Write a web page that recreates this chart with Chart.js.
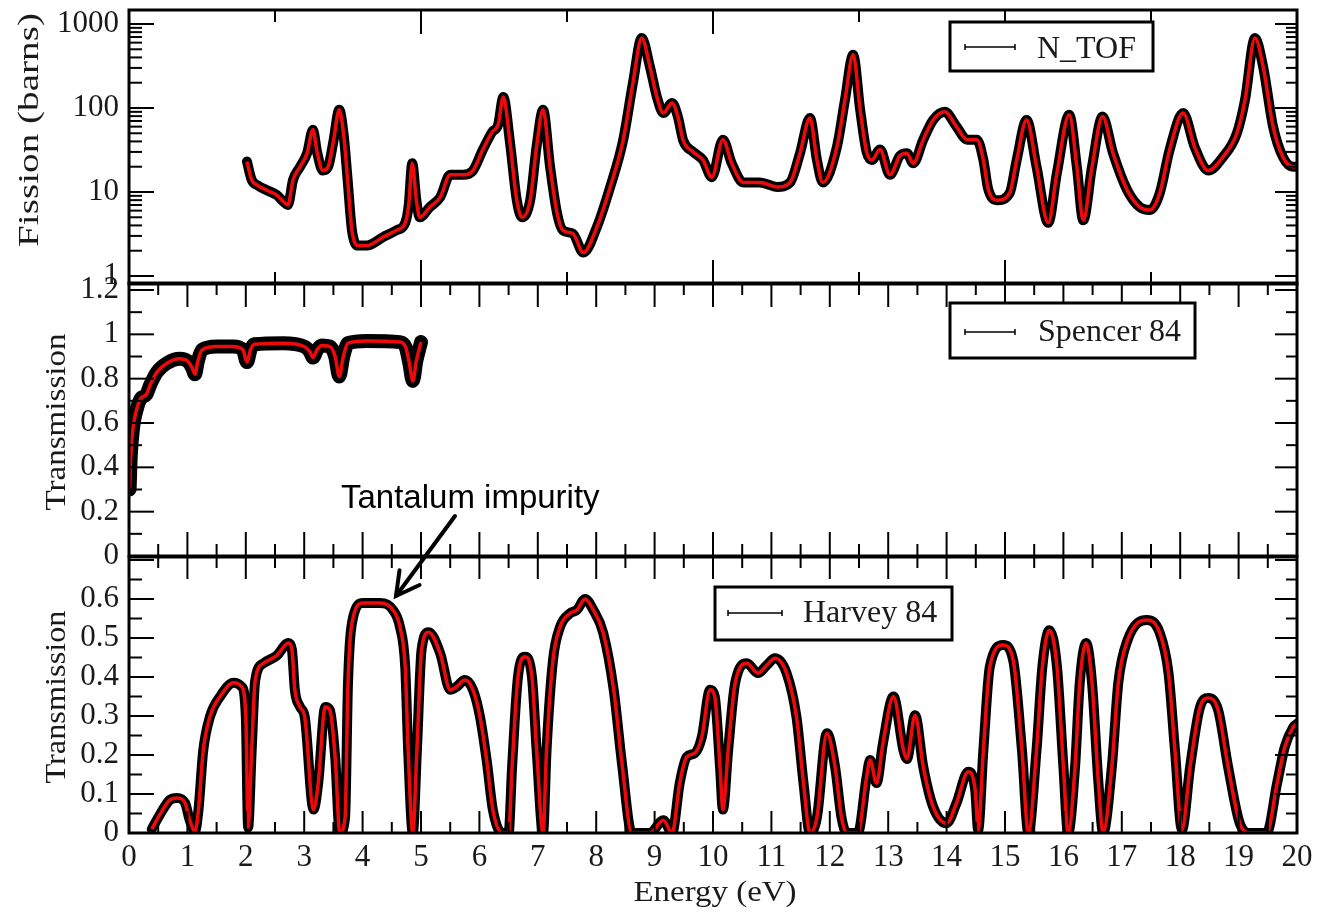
<!DOCTYPE html>
<html><head><meta charset="utf-8">
<script src="https://cdn.jsdelivr.net/npm/chart.js@4/dist/chart.umd.min.js"></script>
<style>
html,body{margin:0;padding:0;background:#fff;}
#wrap{position:relative;width:1320px;height:914px;overflow:hidden;background:#fff;}
canvas{position:absolute;left:0;}
</style></head><body>
<div id="wrap">
<canvas id="c1" width="1320" height="300" style="top:0px"></canvas>
<canvas id="c2" width="1320" height="300" style="top:270px"></canvas>
<canvas id="c3" width="1320" height="444" style="top:470px"></canvas>
</div>
<script>
// ---------- DATA ----------
const energyFission = [2.02,2.1,2.2,2.36,2.53,2.65,2.72,2.81,2.93,3.05,3.15,3.22,3.32,3.41,3.5,3.6,3.68,3.74,3.82,3.93,4.07,4.35,4.58,4.73,4.79,4.85,4.92,4.98,5.15,5.33,5.5,5.72,5.89,6.06,6.22,6.32,6.41,6.52,6.64,6.73,6.87,6.98,7.09,7.21,7.33,7.43,7.6,7.78,8.01,8.24,8.46,8.63,8.78,8.92,9.04,9.15,9.3,9.4,9.49,9.66,9.83,9.98,10.17,10.32,10.52,10.8,11.1,11.32,11.49,11.66,11.78,11.88,12.12,12.26,12.4,12.52,12.63,12.72,12.86,13.03,13.2,13.32,13.43,13.6,13.77,13.97,14.17,14.35,14.52,14.63,14.71,14.86,15.08,15.2,15.37,15.54,15.74,15.89,16.1,16.23,16.34,16.49,16.67,16.85,17.09,17.31,17.48,17.65,17.82,18.05,18.25,18.48,18.73,18.97,19.11,19.28,19.42,19.59,19.76,19.93,20.0];
const fissionNTOF = [23,14,12,10.5,9.2,7.6,7.0,14,20,29,55,30,18,20,40,95,45,15,3.4,2.3,2.3,2.9,3.5,4.3,7,22,8,5.0,6.6,8.7,16,16,18,32,52,63,135,41,8,5.0,8,35,95,20,5.6,3.5,3.2,1.9,3.8,11.5,41,200,680,310,135,87,115,78,41,30,24,15,42,22,13,13,11.5,13,29,76,24,13,34,125,430,95,30,24,32,16,27,29,22,42,72,90,60,42,42,24,11,8,9.7,24,72,20,4.3,17,83,20,4.6,20,79,29,10.6,6.6,6.1,9.7,32,87,34,18,26,50,125,680,310,60,26,20,20];

const energySpencer = [0.01,0.03,0.07,0.13,0.2,0.3,0.36,0.48,0.65,0.87,1.0,1.08,1.13,1.18,1.25,1.5,1.78,1.95,2.02,2.08,2.15,2.64,3.0,3.1,3.15,3.22,3.3,3.44,3.53,3.6,3.67,3.75,4.07,4.64,4.74,4.8,4.86,4.92,5.0];
const transSpencer = [0.3,0.45,0.58,0.66,0.71,0.73,0.77,0.83,0.87,0.89,0.88,0.85,0.82,0.88,0.93,0.945,0.945,0.93,0.875,0.93,0.955,0.96,0.945,0.92,0.895,0.93,0.95,0.945,0.9,0.81,0.9,0.96,0.97,0.965,0.94,0.87,0.79,0.88,0.965];

const energyHarvey = [0.39,0.58,0.7,0.82,0.96,1.04,1.13,1.19,1.27,1.39,1.56,1.79,1.93,2.0,2.04,2.1,2.16,2.3,2.53,2.73,2.79,2.84,2.93,3.01,3.16,3.24,3.36,3.44,3.53,3.61,3.7,3.75,3.84,4.01,4.3,4.52,4.64,4.73,4.78,4.86,4.93,5.01,5.13,5.33,5.5,5.61,5.75,5.89,6.01,6.13,6.23,6.39,6.5,6.56,6.66,6.78,6.9,6.98,7.09,7.15,7.26,7.38,7.55,7.67,7.81,7.95,8.12,8.3,8.44,8.61,8.92,9.15,9.3,9.43,9.55,9.69,9.81,9.95,10.03,10.12,10.17,10.26,10.38,10.58,10.77,10.92,11.06,11.26,11.43,11.55,11.66,11.78,11.95,12.09,12.2,12.29,12.48,12.63,12.69,12.8,12.91,13.09,13.26,13.32,13.46,13.6,13.77,14.0,14.17,14.37,14.49,14.54,14.63,14.74,14.97,15.14,15.29,15.4,15.54,15.64,15.76,15.89,16.0,16.08,16.2,16.28,16.39,16.49,16.6,16.68,16.83,16.94,17.1,17.43,17.65,17.8,17.91,18.03,18.17,18.34,18.48,18.65,18.82,19.02,19.2,19.48,19.66,19.79,19.93,20.0];
const transHarvey = [0.01,0.06,0.085,0.09,0.077,0.033,0.005,0.06,0.21,0.30,0.35,0.385,0.375,0.30,0.015,0.21,0.39,0.435,0.455,0.487,0.47,0.367,0.323,0.297,0.06,0.128,0.323,0.315,0.195,0.0,0.04,0.385,0.555,0.59,0.59,0.572,0.528,0.425,0.213,0.0,0.213,0.47,0.515,0.46,0.367,0.375,0.392,0.367,0.298,0.18,0.06,0.0,0.0,0.17,0.40,0.452,0.40,0.213,0.0,0.213,0.443,0.528,0.563,0.572,0.6,0.572,0.513,0.367,0.18,0.0,0.0,0.033,0.0,0.128,0.195,0.205,0.247,0.367,0.35,0.17,0.06,0.213,0.385,0.435,0.41,0.43,0.448,0.41,0.297,0.128,0.0,0.04,0.256,0.17,0.04,0.0,0.0,0.143,0.187,0.128,0.23,0.35,0.213,0.19,0.302,0.17,0.067,0.025,0.077,0.157,0.11,0.008,0.213,0.426,0.482,0.443,0.213,0.0,0.213,0.426,0.52,0.426,0.17,0.0,0.17,0.385,0.487,0.385,0.128,0.0,0.17,0.385,0.495,0.546,0.513,0.41,0.213,0.008,0.17,0.323,0.346,0.315,0.17,0.025,0.0,0.0,0.128,0.22,0.27,0.28];

const xTicks = [0,1,2,3,4,5,6,7,8,9,10,11,12,13,14,15,16,17,18,19,20];
const fissionTicks = [1,10,100,1000];
const spencerTicks = [0,0.2,0.4,0.6,0.8,1,1.2];
const harveyTicks = [0,0.1,0.2,0.3,0.4,0.5,0.6];

const legendNames = ['N_TOF','Spencer 84','Harvey 84'];
const yTitles = ['Fission (barns)','Transmission','Transmission'];
const xTitle = 'Energy (eV)';
const annotationText = 'Tantalum impurity';

// ---------- HELPERS ----------
Chart.defaults.font.family = "'Liberation Serif', 'Times New Roman', serif";
const SERIF = "'Liberation Serif', 'Times New Roman', serif";

const framePlugin = {
  id: 'frame',
  afterDatasetsDraw(chart, args, o) {
    const {ctx, chartArea: a} = chart;
    const xs = chart.scales.x, ys = chart.scales.y;
    ctx.save();
    ctx.strokeStyle = '#000';
    const seg = (x1,y1,x2,y2) => { ctx.beginPath(); ctx.moveTo(x1,y1); ctx.lineTo(x2,y2); ctx.stroke(); };
    ctx.lineWidth = 2;
    const n = Math.round(20 / o.xMinor);
    for (let i = 0; i <= n; i++) {
      const v = i * o.xMinor;
      const r = v / o.xMajor;
      const major = Math.abs(r - Math.round(r)) < 1e-6;
      const px = xs.getPixelForValue(v);
      seg(px, a.top, px, a.top + (major ? o.xMajLen : o.xMinLen));
      seg(px, a.bottom, px, a.bottom - (major ? o.xMajLen : o.xMinLen));
    }
    const yVals = [];
    if (ys.type === 'logarithmic') {
      for (let d = 1; d <= 1000; d *= 10) for (let m = 1; m <= 9; m++) {
        const v = d * m; if (v >= ys.min && v <= ys.max) yVals.push([v, m === 1]);
      }
    } else {
      for (let i = 0; ; i++) { const v = i * o.yMinor; if (v > ys.max + 1e-9) break; yVals.push([v, i % 2 === 0]); }
    }
    yVals.forEach(([v, maj]) => {
      const py = ys.getPixelForValue(v);
      seg(a.left, py, a.left + (maj ? 25 : 13), py);
      seg(a.right, py, a.right - (maj ? 22 : 11), py);
    });
    ctx.lineWidth = 3;
    ctx.strokeRect(a.left, a.top, a.right - a.left, a.bottom - a.top);
    ctx.restore();
  }
};

function stretchedText(ctx, text, cx, cy, rotate, targetLen, font) {
  ctx.save();
  ctx.font = font;
  const w = ctx.measureText(text).width;
  ctx.translate(cx, cy);
  if (rotate) ctx.rotate(-Math.PI / 2);
  ctx.scale(targetLen / w, 1);
  ctx.textAlign = 'center';
  ctx.textBaseline = 'middle';
  ctx.fillStyle = '#1a1a1a';
  ctx.fillText(text, 0, 0);
  ctx.restore();
}

const decorPlugin = {
  id: 'decor',
  afterDraw(chart, args, o) {
    const ctx = chart.ctx;
    const off = o.top;
    (o.titles || []).forEach(t => stretchedText(ctx, t.text, t.x, t.y - off, t.rot, t.len, t.font));
    if (o.legend) {
      const L = o.legend;
      ctx.save();
      ctx.fillStyle = '#fff';
      ctx.fillRect(L.x1, L.y1 - off, L.x2 - L.x1, L.y2 - L.y1);
      ctx.strokeStyle = '#000'; ctx.lineWidth = 3;
      ctx.strokeRect(L.x1, L.y1 - off, L.x2 - L.x1, L.y2 - L.y1);
      ctx.lineWidth = 1.5;
      const ly = L.ly - off;
      ctx.beginPath();
      ctx.moveTo(L.lx1, ly); ctx.lineTo(L.lx2, ly);
      ctx.moveTo(L.lx1, ly - 3); ctx.lineTo(L.lx1, ly + 3);
      ctx.moveTo(L.lx2, ly - 3); ctx.lineTo(L.lx2, ly + 3);
      ctx.stroke();
      ctx.fillStyle = '#1a1a1a';
      ctx.font = '32px ' + SERIF;
      ctx.textAlign = 'left'; ctx.textBaseline = 'alphabetic';
      ctx.fillText(L.text, L.tx, L.ty - off);
      ctx.restore();
    }
    if (o.note) {
      const N = o.note;
      ctx.save();
      ctx.fillStyle = '#000';
      ctx.font = "33px 'Liberation Sans', Arial, sans-serif";
      ctx.textAlign = 'left'; ctx.textBaseline = 'alphabetic';
      ctx.fillText(N.text, N.tx, N.ty - off);
      const x1 = N.ax1, y1 = N.ay1 - off, x2 = N.ax2, y2 = N.ay2 - off;
      ctx.strokeStyle = '#000'; ctx.lineWidth = 4; ctx.lineCap = 'round';
      ctx.beginPath(); ctx.moveTo(x1, y1); ctx.lineTo(x2, y2); ctx.stroke();
      const ang = Math.atan2(y1 - y2, x1 - x2);
      const hl = 26, ha = 0.5;
      ctx.beginPath();
      ctx.moveTo(x2 + hl * Math.cos(ang + ha), y2 + hl * Math.sin(ang + ha));
      ctx.lineTo(x2, y2);
      ctx.lineTo(x2 + hl * Math.cos(ang - ha), y2 + hl * Math.sin(ang - ha));
      ctx.stroke();
      ctx.restore();
    }
  }
};

function pts(xa, ya) { return xa.map((x, i) => ({x: x, y: ya[i]})); }

function yScale(type, min, max, ticks) {
  return {
    type: type, min: min, max: max,
    afterBuildTicks: s => { s.ticks = ticks.map(v => ({value: v})); },
    afterFit: s => { s.width = 129; s.paddingTop = 0; s.paddingBottom = 0; },
    ticks: { padding: 10, color: '#1a1a1a', font: {size: 31, family: SERIF}, callback: v => String(v), autoSkip: false },
    grid: { display: false, drawTicks: false },
    border: { display: false }
  };
}

function makeChart(id, cfg) {
  return new Chart(document.getElementById(id), {
    type: 'line',
    data: { datasets: [
      { label: 'fit', data: cfg.data, borderColor: '#ee0a0a', borderWidth: 3.5, pointRadius: 0,
        cubicInterpolationMode: 'monotone', borderJoinStyle: 'round', order: 0 },
      { label: cfg.name, data: cfg.data, borderColor: '#000', borderWidth: cfg.bw, pointRadius: 0,
        cubicInterpolationMode: 'monotone', borderJoinStyle: 'round', borderCapStyle: 'round', order: 1 }
    ]},
    options: {
      responsive: false, animation: false, devicePixelRatio: 1,
      layout: { padding: cfg.padding },
      plugins: {
        legend: { display: false }, tooltip: { enabled: false },
        frame: cfg.frame, decor: cfg.decor
      },
      scales: { x: cfg.x, y: cfg.y }
    },
    plugins: [framePlugin, decorPlugin]
  });
}

const hiddenX = { type: 'linear', min: 0, max: 20, display: false };

// Top panel: fission (log)
makeChart('c1', {
  name: legendNames[0], bw: 10,
  data: pts(energyFission, fissionNTOF),
  padding: { left: 0, top: 10, right: 23, bottom: 16 },
  x: hiddenX,
  y: yScale('logarithmic', 0.803, 1468, fissionTicks),
  frame: { xMinor: 2.5, xMajor: 5, xMajLen: 24, xMinLen: 12 },
  decor: { top: 0,
    titles: [{ text: yTitles[0], x: 30, y: 130, rot: true, len: 234, font: '30px ' + SERIF }],
    legend: { x1: 950, y1: 22, x2: 1153, y2: 71, lx1: 965, lx2: 1015, ly: 47, tx: 1037, ty: 58, text: legendNames[0] } }
});

// Middle panel: Spencer transmission
makeChart('c2', {
  name: legendNames[1], bw: 14,
  data: pts(energySpencer, transSpencer),
  padding: { left: 0, top: 13, right: 23, bottom: 14 },
  x: hiddenX,
  y: yScale('linear', 0, 1.2316, spencerTicks),
  frame: { xMinor: 0.5, xMajor: 1, xMajLen: 24, xMinLen: 12, yMinor: 0.1 },
  decor: { top: 270,
    titles: [{ text: yTitles[1], x: 57, y: 422, rot: true, len: 177, font: '30px ' + SERIF }],
    legend: { x1: 950, y1: 303, x2: 1195, y2: 358, lx1: 965, lx2: 1015, ly: 332, tx: 1038, ty: 341, text: legendNames[1] } }
});

// Bottom panel: Harvey transmission
makeChart('c3', {
  name: legendNames[2], bw: 10,
  data: pts(energyHarvey, transHarvey),
  padding: { left: 0, top: 87, right: 23, bottom: 0 },
  x: {
    type: 'linear', min: 0, max: 20,
    afterBuildTicks: s => { s.ticks = xTicks.map(v => ({value: v})); },
    afterFit: s => { s.height = 81; s.paddingLeft = 0; s.paddingRight = 0; },
    ticks: { padding: 6, color: '#1a1a1a', font: {size: 31, family: SERIF}, callback: v => String(v), autoSkip: false, maxRotation: 0 },
    grid: { display: false, drawTicks: false },
    border: { display: false }
  },
  y: yScale('linear', 0, 0.7077, harveyTicks),
  frame: { xMinor: 0.5, xMajor: 1, xMajLen: 22, xMinLen: 11, yMinor: 0.05 },
  decor: { top: 470,
    titles: [
      { text: yTitles[2], x: 57, y: 697, rot: true, len: 173, font: '30px ' + SERIF },
      { text: xTitle, x: 715, y: 893, rot: false, len: 163, font: '30px ' + SERIF }
    ],
    legend: { x1: 715, y1: 587, x2: 952, y2: 640, lx1: 728, lx2: 782, ly: 613, tx: 803, ty: 622, text: legendNames[2] },
    note: { text: annotationText, tx: 341, ty: 508, ax1: 455, ay1: 516, ax2: 396, ay2: 596 } }
});
</script>
</body></html>
